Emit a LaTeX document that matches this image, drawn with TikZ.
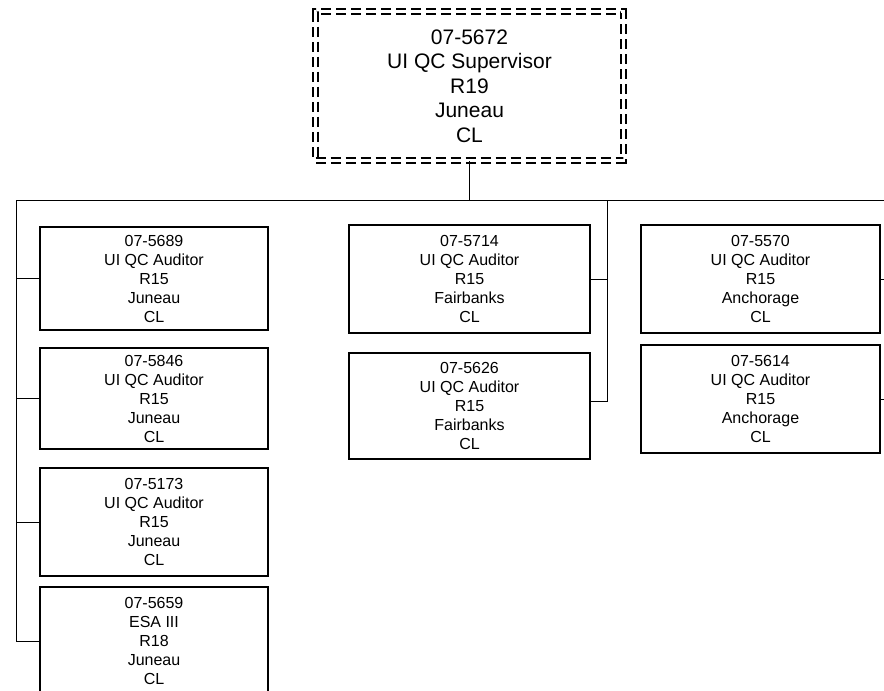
\documentclass[tikz,border=0pt]{standalone}
\usepackage{fontspec}
\setmainfont{Liberation Sans}
\begin{document}
\begin{tikzpicture}[x=1pt,y=-1pt,
  posbox/.style={draw,line width=1.8pt,inner sep=0pt,align=center,
    font=\fontsize{16}{19}\selectfont},
  supbox/.style={draw,dash pattern=on 10pt off 5pt,double,double distance=3.2pt,
    line width=1.8pt,inner sep=0pt,align=center,
    font=\fontsize{21}{24.5}\selectfont,minimum width=308pt,minimum height=149pt},
  conn/.style={line width=1pt}]
\useasboundingbox (0,0) rectangle (884,691);
\clip (0,0) rectangle (884,691);

\node[supbox] (sup) at (469.5,86) {07-5672\\UI QC Supervisor\\R19\\Juneau\\CL};

% left column
\node[posbox,minimum width=228pt,minimum height=103pt] (l1) at (154,278.5) {07-5689\\UI QC Auditor\\R15\\Juneau\\CL};
\node[posbox,minimum width=228pt,minimum height=101pt] (l2) at (154,398.5) {07-5846\\UI QC Auditor\\R15\\Juneau\\CL};
\node[posbox,minimum width=228pt,minimum height=108pt] (l3) at (154,522) {07-5173\\UI QC Auditor\\R15\\Juneau\\CL};
\node[posbox,minimum width=228pt,minimum height=108pt] (l4) at (154,641) {07-5659\\ESA III\\R18\\Juneau\\CL};

% middle column
\node[posbox,minimum width=241pt,minimum height=108pt] (m1) at (469.5,279) {07-5714\\UI QC Auditor\\R15\\Fairbanks\\CL};
\node[posbox,minimum width=241pt,minimum height=106pt] (m2) at (469.5,406) {07-5626\\UI QC Auditor\\R15\\Fairbanks\\CL};

% right column
\node[posbox,minimum width=239pt,minimum height=108pt] (r1) at (760.5,279) {07-5570\\UI QC Auditor\\R15\\Anchorage\\CL};
\node[posbox,minimum width=239pt,minimum height=108pt] (r2) at (760.5,399) {07-5614\\UI QC Auditor\\R15\\Anchorage\\CL};

% connectors
\coordinate (bus) at (469.5,200);
\coordinate (busL) at (16,200);
\coordinate (busR) at (900,200);
\coordinate (mv) at (607,200);
\coordinate (mj2) at (607,401);
\coordinate (rv) at (900,200);

\draw[conn] (sup.south) -- (bus);
\draw[conn] (busL) -- (busR);

\draw[conn] (busL) |- (l4.west);
\draw[conn] (busL |- l1.west) -- (l1.west);
\draw[conn] (busL |- l2.west) -- (l2.west);
\draw[conn] (busL |- l3.west) -- (l3.west);

\draw[conn] (mv) -- (mj2) -- (mj2 -| m2.east);
\draw[conn] (mv |- m1.east) -- (m1.east);

\draw[conn] (rv |- r1.east) -- (r1.east);
\draw[conn] (rv |- r2.east) -- (r2.east);
\end{tikzpicture}
\end{document}
